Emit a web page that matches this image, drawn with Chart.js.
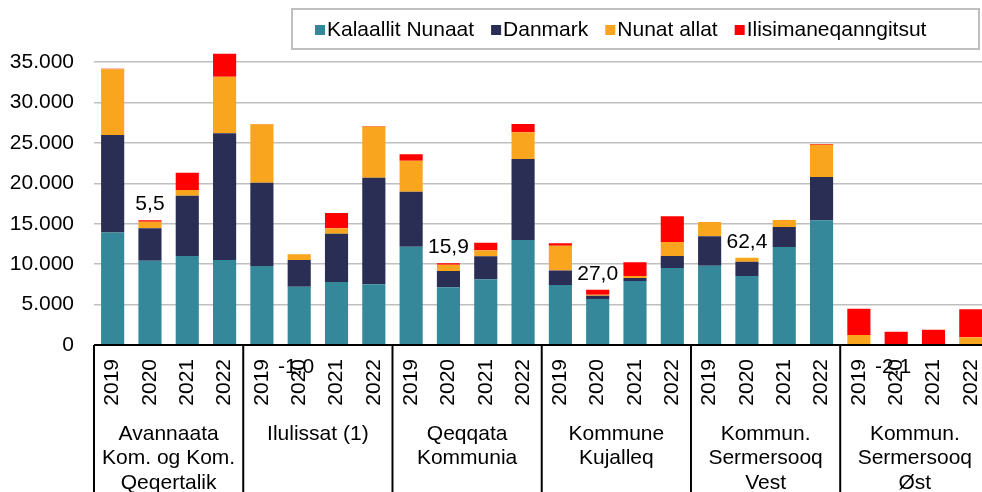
<!DOCTYPE html>
<html>
<head>
<meta charset="utf-8">
<script src="https://cdn.jsdelivr.net/npm/chart.js@4.4.0/dist/chart.umd.min.js"></script>
<style>
  html, body { margin: 0; padding: 0; background: #fff; overflow: hidden; }
  #wrap { position: relative; width: 1010px; height: 492px; }
</style>
</head>
<body>
<div id="wrap"><canvas id="myChart"></canvas></div>
<script>
// categories
const groups = [
    ['Avannaata', 'Kom. og Kom.', 'Qeqertalik'],
    ['Ilulissat (1)'],
    ['Qeqqata', 'Kommunia'],
    ['Kommune', 'Kujalleq'],
    ['Kommun.', 'Sermersooq', 'Vest'],
    ['Kommun.', 'Sermersooq', 'Øst']
];
const years = ['2019', '2020', '2021', '2022'];

// series (one value per group/year, in group order)
const kalaallitNunaat = [13900, 10430, 11010, 10510, 9770, 7210, 7790, 7500, 12160, 7130, 8120, 12990, 7420, 5690, 7910, 9520, 9810, 8530, 12120, 15420, 0, 0, 0, 0];
const danmark = [12070, 4000, 7460, 15670, 10300, 3300, 5980, 13190, 6800, 2020, 2850, 10010, 1810, 410, 380, 1490, 3630, 1770, 2470, 5360, 0, 0, 0, 0];
const nunatAllat = [8130, 820, 700, 7000, 7220, 700, 660, 6350, 3840, 780, 740, 3300, 3050, 120, 240, 1730, 1770, 500, 870, 3990, 1240, 0, 0, 950];
const ilisimaneqanngitsut = [70, 170, 2140, 2850, 60, 0, 1890, 60, 780, 170, 940, 1030, 290, 620, 1700, 3180, 0, 0, 0, 80, 3250, 1650, 1890, 3460];

// change labels shown on the 2020 bar of each group
const changeLabels = ['5,5', '-1,0', '15,9', '27,0', '62,4', '-2,1'];
const changeValues = [5.5, -1.0, 15.9, 27.0, 62.4, -2.1];

// y axis
const yMax = 40000;
const yStep = 5000;

const FONT = '"Liberation Sans", Arial, sans-serif';

let labels = [];
groups.forEach(function (g) {
    years.forEach(function (yr) { labels.push(yr); });
});

function fmt(v) {
    return v.toString().replace(/\B(?=(\d{3})+(?!\d))/g, '.');
}

// group names + separators under the axis, and the change labels
const groupAxis = {
    id: 'groupAxis',
    afterDraw(chart) {
        const ctx = chart.ctx;
        const area = chart.chartArea;
        const x = chart.scales.x;
        const y = chart.scales.y;
        const half = (x.getPixelForValue(1) - x.getPixelForValue(0)) / 2;

        ctx.save();
        ctx.strokeStyle = '#000';
        ctx.lineWidth = 2;
        ctx.fillStyle = '#000';
        ctx.font = '21px ' + FONT;
        ctx.textAlign = 'center';
        ctx.textBaseline = 'middle';

        groups.forEach(function (lines, g) {
            let left = x.getPixelForValue(g * 4) - half;
            let right = x.getPixelForValue(g * 4 + 3) + half;
            ctx.beginPath();
            ctx.moveTo(left, area.bottom);
            ctx.lineTo(left, chart.height);
            ctx.stroke();
            if (g === groups.length - 1) {
                ctx.beginPath();
                ctx.moveTo(right, area.bottom);
                ctx.lineTo(right, chart.height);
                ctx.stroke();
            }
            lines.forEach(function (t, i) {
                ctx.fillText(t, (left + right) / 2, area.bottom + 89 + i * 24.5);
            });
        });

        // change labels
        changeLabels.forEach(function (t, g) {
            let i = g * 4 + 1;
            let px = x.getPixelForValue(i);
            if (changeValues[g] >= 0) {
                let total = 0;
                chart.data.datasets.forEach(function (ds) { total += ds.data[i]; });
                ctx.textBaseline = 'alphabetic';
                ctx.fillText(t, px, y.getPixelForValue(total) - 10);
            } else {
                ctx.textBaseline = 'middle';
                ctx.fillText(t, px - 3, area.bottom + 22);
            }
        });
        ctx.restore();
    }
};

// boxed legend drawn over the plot
const boxLegend = {
    id: 'boxLegend',
    afterDraw(chart) {
        const ctx = chart.ctx;
        ctx.save();
        ctx.fillStyle = '#fff';
        ctx.fillRect(292, 9, 687, 40);
        ctx.strokeStyle = '#BFBFBF';
        ctx.lineWidth = 2;
        ctx.strokeRect(292, 9, 687, 40);
        ctx.font = '21px ' + FONT;
        ctx.textBaseline = 'middle';
        ctx.textAlign = 'left';
        let xx = 315;
        chart.data.datasets.forEach(function (ds) {
            ctx.fillStyle = ds.backgroundColor;
            ctx.fillRect(xx, 25, 10, 10);
            ctx.fillStyle = '#000';
            ctx.fillText(ds.label, xx + 12, 30);
            xx += 12 + ctx.measureText(ds.label).width + 17;
        });
        ctx.restore();
    }
};

var ctx = document.getElementById('myChart').getContext('2d');
var chart = new Chart(ctx, {
    type: 'bar',
    data: {
        labels: labels,
        datasets: [
            { label: 'Kalaallit Nunaat', data: kalaallitNunaat, backgroundColor: '#358899' },
            { label: 'Danmark', data: danmark, backgroundColor: '#2A2E55' },
            { label: 'Nunat allat', data: nunatAllat, backgroundColor: '#F9A51E' },
            { label: 'Ilisimaneqanngitsut', data: ilisimaneqanngitsut, backgroundColor: '#FF0000' }
        ]
    },
    options: {
        responsive: true,
        maintainAspectRatio: false,
        animation: false,
        layout: { padding: { top: 21.6, left: 0, right: 0, bottom: 0 } },
        datasets: {
            bar: { barPercentage: 0.62, categoryPercentage: 1.0, borderWidth: 0 }
        },
        plugins: {
            legend: { display: false },
            tooltip: { enabled: false }
        },
        scales: {
            x: {
                stacked: true,
                grid: { display: false, drawTicks: false },
                border: { display: false },
                ticks: {
                    color: '#000',
                    font: { family: FONT, size: 21 },
                    minRotation: 90,
                    maxRotation: 90,
                    padding: 14,
                    autoSkip: false
                },
                afterFit: function (scale) { scale.height = 147; }
            },
            y: {
                stacked: true,
                min: 0,
                max: yMax,
                border: { display: false },
                grid: {
                    drawTicks: false,
                    color: function (c) {
                        if (c.tick.value === yMax) return 'rgba(0,0,0,0)';
                        return c.tick.value === 0 ? '#000' : '#BFBFBF';
                    },
                    lineWidth: function (c) { return c.tick.value === 0 ? 2 : 1.5; }
                },
                ticks: {
                    stepSize: yStep,
                    color: '#000',
                    padding: 20,
                    font: { family: FONT, size: 21 },
                    callback: function (v) { return v === yMax ? '' : fmt(v); }
                },
                afterFit: function (scale) {
                    scale.width = 94;
                    scale.paddingTop = 0;
                    scale.paddingBottom = 0;
                }
            }
        }
    },
    plugins: [groupAxis, boxLegend]
});
</script>
</body>
</html>
